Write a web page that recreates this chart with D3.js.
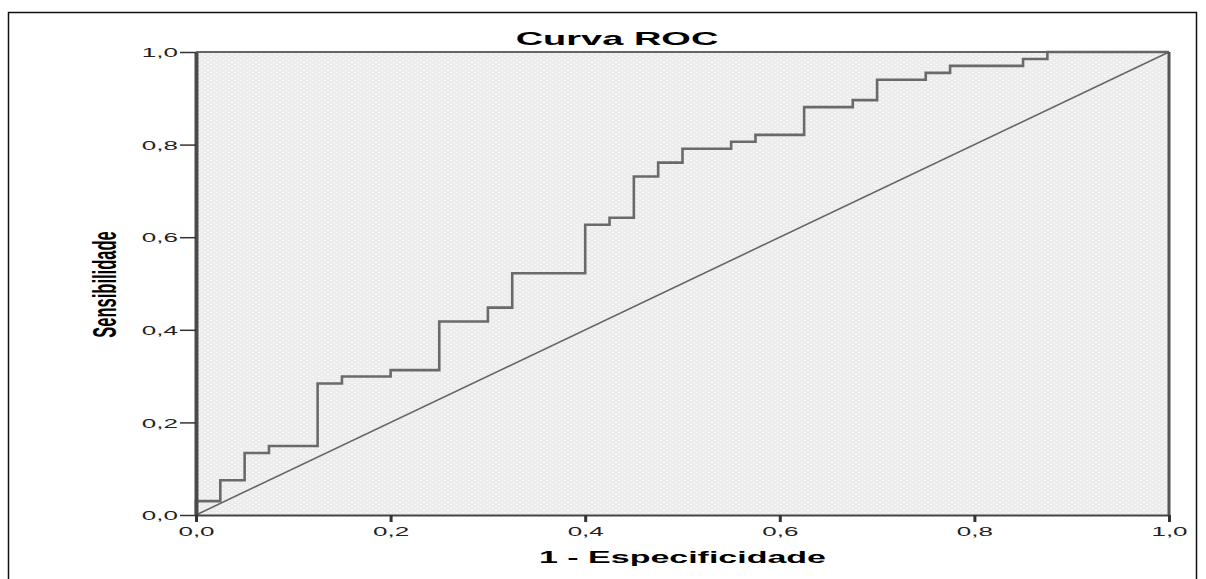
<!DOCTYPE html>
<html>
<head>
<meta charset="utf-8">
<script src="https://cdn.jsdelivr.net/npm/d3@7"></script>
<style>
  body { margin: 0; background: #fff; }
  text { font-family: "Liberation Sans", Arial, sans-serif; }
</style>
</head>
<body>
<div id="wrapper"></div>
<script>
// ROC curve steps: 1 - specificity (x) and sensitivity (y)
const fpr = [0, 0, 0.025, 0.05, 0.075, 0.125, 0.15, 0.2, 0.25, 0.3, 0.325, 0.4, 0.425,
  0.45, 0.475, 0.5, 0.55, 0.575, 0.625, 0.675, 0.7, 0.75, 0.775, 0.85, 0.875, 1.0]
const tpr = [0, 0.030, 0.075, 0.134, 0.149, 0.284, 0.299, 0.313, 0.418, 0.448, 0.522, 0.627, 0.642,
  0.731, 0.761, 0.791, 0.806, 0.821, 0.881, 0.896, 0.940, 0.955, 0.970, 0.985, 1.0, 1.0]
// reference diagonal
const diagX = [0, 1]
const diagY = [0, 1]

const tickValues = [0, 0.2, 0.4, 0.6, 0.8, 1.0]
const tickLabels = ["0,0", "0,2", "0,4", "0,6", "0,8", "1,0"]

const titleText = "Curva ROC"
const xLabelText = "1 - Especificidade"
const yLabelText = "Sensibilidade"

function drawRoc() {
  const dimensions = {
    width: 1206,
    height: 579,
    plot: { left: 196, right: 1169, top: 52, bottom: 515 },
  }
  // the source picture is stretched horizontally, so text is too
  const sx = 2

  const svg = d3.select("#wrapper")
    .append("svg")
      .attr("width", dimensions.width)
      .attr("height", dimensions.height)

  const defs = svg.append("defs")
  const pat = defs.append("pattern")
      .attr("id", "dots")
      .attr("width", 6)
      .attr("height", 4)
      .attr("patternUnits", "userSpaceOnUse")
  pat.append("rect").attr("width", 6).attr("height", 4).attr("fill", "#ececec")
  pat.append("rect").attr("x", 0).attr("y", 0).attr("width", 2).attr("height", 1).attr("fill", "#f9f9f9")
  pat.append("rect").attr("x", 3).attr("y", 2).attr("width", 2).attr("height", 1).attr("fill", "#f9f9f9")

  // outer frame
  svg.append("rect")
      .attr("x", 8.5)
      .attr("y", 12.5)
      .attr("width", 1188)
      .attr("height", 600)
      .attr("fill", "none")
      .attr("stroke", "#111")
      .attr("stroke-width", 1.5)

  const p = dimensions.plot
  const xScale = d3.scaleLinear().domain([0, 1]).range([p.left, p.right])
  const yScale = d3.scaleLinear().domain([0, 1]).range([p.bottom, p.top])

  // plot background
  svg.append("rect")
      .attr("x", p.left)
      .attr("y", p.top)
      .attr("width", p.right - p.left)
      .attr("height", p.bottom - p.top)
      .attr("fill", "url(#dots)")

  // diagonal
  svg.append("path")
      .datum(diagX.map((d, i) => [d, diagY[i]]))
      .attr("d", d3.line().x(d => xScale(d[0])).y(d => yScale(d[1])))
      .attr("fill", "none")
      .attr("stroke", "#666")
      .attr("stroke-width", 1.6)

  // ROC step curve
  svg.append("path")
      .datum(fpr.map((d, i) => [d, tpr[i]]))
      .attr("d", d3.line().x(d => xScale(d[0])).y(d => yScale(d[1])).curve(d3.curveStepAfter))
      .attr("fill", "none")
      .attr("stroke", "#6a6a6a")
      .attr("stroke-width", 2.6)

  // frame of the plot
  svg.append("line")
      .attr("x1", p.left).attr("x2", p.right)
      .attr("y1", p.top).attr("y2", p.top)
      .attr("stroke", "#666").attr("stroke-width", 2)
  svg.append("line")
      .attr("x1", p.right).attr("x2", p.right)
      .attr("y1", p.top).attr("y2", p.bottom)
      .attr("stroke", "#555").attr("stroke-width", 3)

  // y axis
  const yAxis = svg.append("g")
      .attr("transform", `translate(${p.left},0)`)
      .call(d3.axisLeft(yScale)
        .tickValues(tickValues)
        .tickFormat((d, i) => tickLabels[i])
        .tickSize(16)
        .tickSizeOuter(0))
  yAxis.select(".domain").attr("stroke", "#4a4a4a").attr("stroke-width", 4)
  yAxis.selectAll(".tick line").attr("stroke", "#333").attr("stroke-width", 1.5)
  yAxis.selectAll(".tick text")
      .attr("x", null)
      .attr("dy", "0.36em")
      .attr("transform", `translate(-18,0) scale(${sx},1)`)
      .attr("font-size", 13)
      .attr("fill", "#222")
      .attr("font-family", "Liberation Sans, Arial, sans-serif")

  // x axis
  const xAxis = svg.append("g")
      .attr("transform", `translate(0,${p.bottom})`)
      .call(d3.axisBottom(xScale)
        .tickValues(tickValues)
        .tickFormat((d, i) => tickLabels[i])
        .tickSize(7)
        .tickSizeOuter(0))
  xAxis.select(".domain").attr("stroke", "#444").attr("stroke-width", 2)
  xAxis.selectAll(".tick line").attr("stroke", "#333").attr("stroke-width", 3)
  xAxis.selectAll(".tick text")
      .attr("y", null)
      .attr("dy", null)
      .attr("transform", `translate(0,21) scale(${sx},1)`)
      .attr("font-size", 13)
      .attr("fill", "#222")
      .attr("font-family", "Liberation Sans, Arial, sans-serif")

  // title and axis labels
  svg.append("text")
      .attr("transform", `translate(617,45) scale(${sx},1)`)
      .attr("text-anchor", "middle")
      .attr("font-size", 19)
      .attr("font-weight", "bold")
      .text(titleText)

  svg.append("text")
      .attr("transform", `translate(${(p.left + p.right) / 2},563) scale(${sx},1)`)
      .attr("text-anchor", "middle")
      .attr("font-size", 17)
      .attr("font-weight", "bold")
      .text(xLabelText)

  svg.append("text")
      .attr("transform", `translate(116,${(p.top + p.bottom) / 2 + 1}) scale(${sx},1) rotate(-90)`)
      .attr("text-anchor", "middle")
      .attr("font-size", 16.5)
      .attr("font-weight", "bold")
      .text(yLabelText)
}
drawRoc()
</script>
</body>
</html>
